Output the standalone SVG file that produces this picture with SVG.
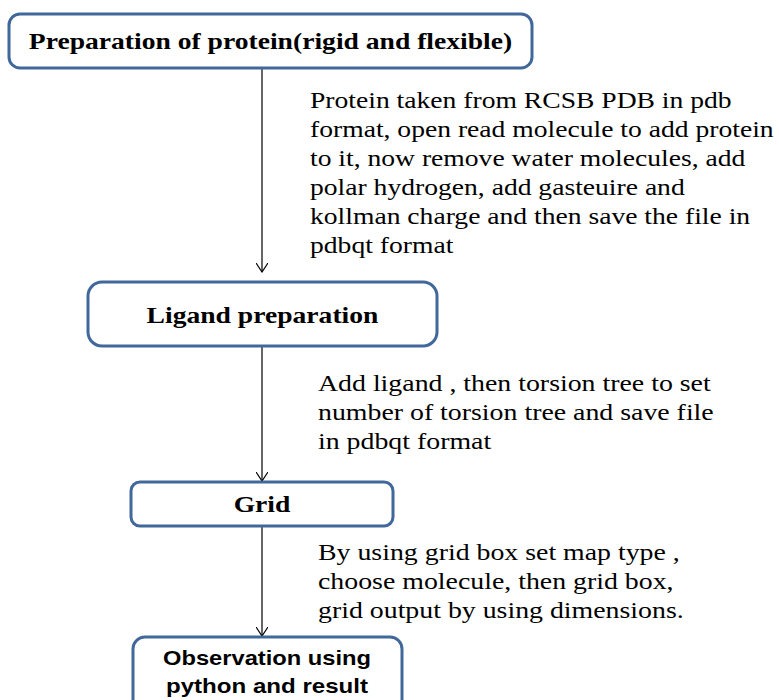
<svg xmlns="http://www.w3.org/2000/svg" width="779" height="700" viewBox="0 0 779 700">
  <style>
    .box { fill: #ffffff; stroke: #41689a; stroke-width: 3; }
    .title { font-family: "Liberation Serif", "Times New Roman", serif; font-weight: bold; font-size: 24px; fill: #000; text-anchor: middle; }
    .note { font-family: "Liberation Serif", "Times New Roman", serif; font-size: 24px; fill: #000; }
    .sans { font-family: "Liberation Sans", Arial, sans-serif; font-weight: bold; font-size: 21px; fill: #000; text-anchor: middle; }
    .edge { stroke: #000; stroke-width: 1.2; fill: none; marker-end: url(#arrow); }
  </style>
  <defs>
    <!-- open V arrowhead, drawn along +x so orient="auto" points it down the line -->
    <marker id="arrow" viewBox="0 0 10 12" refX="9" refY="6" markerWidth="10" markerHeight="12" markerUnits="userSpaceOnUse" orient="auto">
      <path d="M0,0 L9,6 L0,12" fill="none" stroke="#000" stroke-width="1.2"/>
    </marker>
  </defs>
  <rect width="779" height="700" fill="#ffffff"/>

  <g id="connectors">
    <line class="edge" x1="262" y1="69" x2="262" y2="272"/>
    <line class="edge" x1="262" y1="347" x2="262" y2="481"/>
    <line class="edge" x1="262" y1="527" x2="262" y2="636"/>
  </g>

  <g id="node-protein">
    <rect class="box" x="9" y="14" width="523" height="54" rx="11"/>
    <g transform="translate(270.5,49) scale(1.15,1)">
      <text class="title" x="0" y="0">Preparation of protein(rigid and flexible)</text>
    </g>
  </g>

  <g id="note-protein" transform="translate(310,0) scale(1.15,1)">
    <text class="note" x="0" y="108">Protein taken from RCSB PDB in pdb</text>
    <text class="note" x="0" y="137">format, open read molecule to add protein</text>
    <text class="note" x="0" y="166">to it, now remove water molecules, add</text>
    <text class="note" x="0" y="195">polar hydrogen, add gasteuire and</text>
    <text class="note" x="0" y="224">kollman charge and then save the file in</text>
    <text class="note" x="0" y="253">pdbqt format</text>
  </g>

  <g id="node-ligand">
    <rect class="box" x="88" y="282" width="349" height="64" rx="14"/>
    <g transform="translate(262.5,323) scale(1.15,1)">
      <text class="title" x="0" y="0">Ligand preparation</text>
    </g>
  </g>

  <g id="note-ligand" transform="translate(318,0) scale(1.16,1)">
    <text class="note" x="0" y="391">Add ligand , then torsion tree to set</text>
    <text class="note" x="0" y="420">number of torsion tree and save file</text>
    <text class="note" x="0" y="449">in pdbqt format</text>
  </g>

  <g id="node-grid">
    <rect class="box" x="131" y="482" width="262" height="44" rx="9"/>
    <g transform="translate(262,512) scale(1.15,1)">
      <text class="title" x="0" y="0">Grid</text>
    </g>
  </g>

  <g id="note-grid" transform="translate(318,0) scale(1.16,1)">
    <text class="note" x="0" y="560">By using grid box set map type ,</text>
    <text class="note" x="0" y="589">choose molecule, then grid box,</text>
    <text class="note" x="0" y="618">grid output by using dimensions.</text>
  </g>

  <g id="node-observation">
    <rect class="box" x="133" y="637" width="269" height="76" rx="12"/>
    <text class="sans" x="267" y="665" textLength="208" lengthAdjust="spacingAndGlyphs">Observation using</text>
    <text class="sans" x="267" y="693" textLength="202" lengthAdjust="spacingAndGlyphs">python and result</text>
  </g>
</svg>
